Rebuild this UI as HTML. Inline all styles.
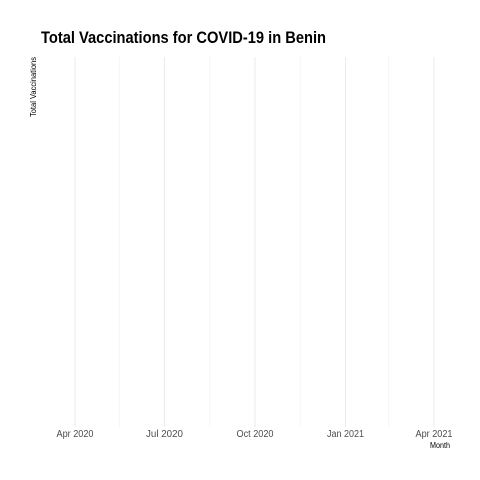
<!DOCTYPE html>
<html><head><meta charset="utf-8">
<style>
html,body{margin:0;padding:0;background:#fff;}
svg{display:block;font-family:"Liberation Sans Narrow","Liberation Sans",sans-serif;}
</style></head>
<body>
<svg id="chart" width="480" height="480" viewBox="0 0 480 480">
  <text x="41" y="43" font-size="17" font-weight="bold" fill="#000" textLength="285" lengthAdjust="spacingAndGlyphs">Total Vaccinations for COVID-19 in Benin</text>
  <text transform="translate(36,117) rotate(-90)" font-size="8" fill="#000" textLength="60" lengthAdjust="spacingAndGlyphs">Total Vaccinations</text>
  <text x="430" y="448" font-size="8" fill="#000" textLength="20" lengthAdjust="spacingAndGlyphs">Month</text>
  <g id="grid"></g>
  <g id="ticks"></g>
  <g id="series"></g>
</svg>
<script>
const majorTicks = ["2020-04-01","2020-07-01","2020-10-01","2021-01-01","2021-04-01"];
const tickLabels = ["Apr 2020","Jul 2020","Oct 2020","Jan 2021","Apr 2021"];
const minorTicks = ["2020-05-16","2020-08-16","2020-11-16","2021-02-14"];
const seriesDates = [];
const seriesValues = [];

const ns = "http://www.w3.org/2000/svg";
const d0 = Date.parse("2020-04-01"), d1 = Date.parse("2021-04-01");
const x0 = 75, x1 = 434, yTop = 57, yBot = 427;
function xScale(d){ return x0 + (Date.parse(d) - d0) / (d1 - d0) * (x1 - x0); }
function yScale(v){ return yBot - v / 1 * (yBot - yTop); }

const grid = document.getElementById('grid');
minorTicks.forEach(d => {
  const l = document.createElementNS(ns,'line');
  const x = xScale(d);
  l.setAttribute('x1',x); l.setAttribute('x2',x);
  l.setAttribute('y1',yTop); l.setAttribute('y2',yBot);
  l.setAttribute('stroke','#f2f2f2'); l.setAttribute('stroke-width','0.8');
  
  
  grid.appendChild(l);
});
const ticks = document.getElementById('ticks');
majorTicks.forEach((d,i) => {
  const x = xScale(d);
  const l = document.createElementNS(ns,'line');
  l.setAttribute('x1',x); l.setAttribute('x2',x);
  l.setAttribute('y1',yTop); l.setAttribute('y2',yBot);
  l.setAttribute('stroke','#ebebeb'); l.setAttribute('stroke-width','1');
  
  
  grid.appendChild(l);
  const t = document.createElementNS(ns,'text');
  t.setAttribute('x',x - 18.5); t.setAttribute('y',437);
  t.setAttribute('font-size','10');
  t.setAttribute('textLength','37'); t.setAttribute('lengthAdjust','spacingAndGlyphs');
  t.setAttribute('fill','#4d4d4d');
  t.textContent = tickLabels[i];
  
  
  ticks.appendChild(t);
});
if (seriesDates.length) {
  const p = document.createElementNS(ns,'path');
  p.setAttribute('d', seriesDates.map((d,i)=>(i?'L':'M')+xScale(d)+','+yScale(seriesValues[i])).join(''));
  p.setAttribute('fill','none'); p.setAttribute('stroke','#000');
  
  
  document.getElementById('series').appendChild(p);
}
</script>
</body></html>
